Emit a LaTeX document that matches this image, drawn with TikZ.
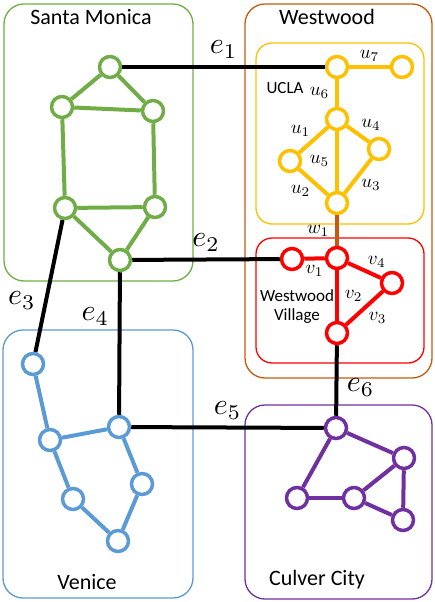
\documentclass[tikz,border=0pt]{standalone}
\usepackage{fontspec}
\setmainfont{Carlito}
\usetikzlibrary{positioning}
\definecolor{smgreen}{HTML}{70AD47}
\definecolor{wwbrown}{HTML}{C55A11}
\definecolor{uclagold}{HTML}{FFC000}
\definecolor{wvred}{HTML}{FF0000}
\definecolor{veblue}{HTML}{5B9BD5}
\definecolor{ccpurple}{HTML}{7030A0}

\begin{document}
\begin{tikzpicture}[
        x=1pt, y=-1pt,
        vtx/.style={circle, draw=#1, line width=3.5pt, fill=white, minimum size=21pt, inner sep=0pt},
        link/.style={line width=4pt, black},
        road/.style={line width=4pt, draw=#1},
        region/.style={rounded corners=20pt, line width=1.3pt},
        regionlabel/.style={font=\fontsize{22}{24}\selectfont},
        smalllabel/.style={font=\fontsize{17}{19}\selectfont, align=center},
        elabel/.style={text=black, inner sep=0.5pt, scale=3, transform shape},
        ulabel/.style={text=black, inner sep=0.5pt, scale=1.9, transform shape}
    ]
        \useasboundingbox (0,0) rectangle (435,602);

        % Regions
        \draw [region, smgreen] (4,4) rectangle (193,281);
        \draw [region, wwbrown] (245,4) rectangle (432,378);
        \draw [region, uclagold, rounded corners=16pt] (256,43) rectangle (424,224);
        \draw [region, wvred, rounded corners=16pt] (256,238) rectangle (424,363);
        \draw [region, veblue] (3,330) rectangle (193,598);
        \draw [region, ccpurple] (245,405) rectangle (432,599);

        \node (smname) [regionlabel] at (91,17) {Santa Monica};
        \node (wwname) [regionlabel] at (327,17) {Westwood};
        \node (uclaname) [smalllabel] at (285,88) {UCLA};
        \node (wvname) [smalllabel] at (297,307) {Westwood\\Village};
        \node (vename) [regionlabel] at (87,582) {Venice};
        \node (ccname) [regionlabel] at (317,580) {Culver City};

        % Nodes
        \node (sm1) [vtx=smgreen] at (110,67) {};
        \node (sm2) [vtx=smgreen] at (62,107) {};
        \node (sm3) [vtx=smgreen] at (153,111) {};
        \node (sm4) [vtx=smgreen] at (65,208) {};
        \node (sm5) [vtx=smgreen] at (155,207) {};
        \node (sm6) [vtx=smgreen] at (120,260) {};

        \node (ucla1) [vtx=uclagold] at (337,67) {};
        \node (ucla2) [vtx=uclagold] at (402,67) {};
        \node (ucla3) [vtx=uclagold] at (337,119) {};
        \node (ucla4) [vtx=uclagold] at (290,161) {};
        \node (ucla5) [vtx=uclagold] at (379,149) {};
        \node (ucla6) [vtx=uclagold] at (337,203) {};

        \node (wv1) [vtx=wvred] at (292,259) {};
        \node (wv2) [vtx=wvred] at (337,258) {};
        \node (wv3) [vtx=wvred] at (392,283) {};
        \node (wv4) [vtx=wvred] at (337,333) {};

        \node (ve1) [vtx=veblue] at (33,364) {};
        \node (ve2) [vtx=veblue] at (50,440) {};
        \node (ve3) [vtx=veblue] at (119,427) {};
        \node (ve4) [vtx=veblue] at (73,499) {};
        \node (ve5) [vtx=veblue] at (142,484) {};
        \node (ve6) [vtx=veblue] at (118,541) {};

        \node (cc1) [vtx=ccpurple] at (336,428) {};
        \node (cc2) [vtx=ccpurple] at (404,458) {};
        \node (cc3) [vtx=ccpurple] at (297,498) {};
        \node (cc4) [vtx=ccpurple] at (354,498) {};
        \node (cc5) [vtx=ccpurple] at (403,520) {};

        % Roads inside the regions
        \draw [road=smgreen] (sm1) -- (sm2);
        \draw [road=smgreen] (sm1) -- (sm3);
        \draw [road=smgreen] (sm2) -- (sm3);
        \draw [road=smgreen] (sm2) -- (sm4);
        \draw [road=smgreen] (sm3) -- (sm5);
        \draw [road=smgreen] (sm4) -- (sm5);
        \draw [road=smgreen] (sm4) -- (sm6);
        \draw [road=smgreen] (sm5) -- (sm6);

        \draw [road=uclagold] (ucla1) -- (ucla2) node[midway, above=1pt, ulabel] {$u_7$};
        \draw [road=uclagold] (ucla1) -- (ucla3) node[midway, left=3pt, ulabel] {$u_6$};
        \draw [road=uclagold] (ucla3) -- (ucla4) node[midway, above left=-2pt, ulabel] {$u_1$};
        \draw [road=uclagold] (ucla3) -- (ucla5) node[midway, above right=-2pt, ulabel] {$u_4$};
        \draw [road=uclagold] (ucla3) -- (ucla6) node[midway, left=3pt, ulabel] {$u_5$};
        \draw [road=uclagold] (ucla4) -- (ucla6) node[midway, below left=-2pt, ulabel] {$u_2$};
        \draw [road=uclagold] (ucla5) -- (ucla6) node[midway, below right=-2pt, ulabel] {$u_3$};

        \draw [road=wwbrown] (ucla6) -- (wv2) node[midway, left=3pt, ulabel] {$w_1$};

        \draw [road=wvred] (wv1) -- (wv2) node[midway, below=2pt, ulabel] {$v_1$};
        \draw [road=wvred] (wv2) -- (wv3) node[midway, above right=-2pt, ulabel] {$v_4$};
        \draw [road=wvred] (wv2) -- (wv4) node[midway, right=3pt, ulabel] {$v_2$};
        \draw [road=wvred] (wv3) -- (wv4) node[midway, below right=-1pt, ulabel] {$v_3$};

        \draw [road=veblue] (ve1) -- (ve2);
        \draw [road=veblue] (ve2) -- (ve3);
        \draw [road=veblue] (ve2) -- (ve4);
        \draw [road=veblue] (ve3) -- (ve5);
        \draw [road=veblue] (ve4) -- (ve6);
        \draw [road=veblue] (ve5) -- (ve6);

        \draw [road=ccpurple] (cc1) -- (cc2);
        \draw [road=ccpurple] (cc1) -- (cc3);
        \draw [road=ccpurple] (cc3) -- (cc4);
        \draw [road=ccpurple] (cc4) -- (cc2);
        \draw [road=ccpurple] (cc4) -- (cc5);
        \draw [road=ccpurple] (cc2) -- (cc5);

        % Links between regions
        \draw [link] (sm1) -- (ucla1) node[pos=0.5, above=1pt, elabel] {$e_1$};
        \draw [link] (sm6) -- (wv1) node[pos=0.5, above=1pt, elabel] {$e_2$};
        \draw [link] (sm4) -- (ve1) node[pos=0.61, left=3pt, elabel] {$e_3$};
        \draw [link] (sm6) -- (ve3) node[pos=0.31, left=3pt, elabel] {$e_4$};
        \draw [link] (ve3) -- (cc1) node[pos=0.5, above=1pt, elabel] {$e_5$};
        \draw [link] (wv4) -- (cc1) node[pos=0.6, right=3pt, elabel] {$e_6$};
    \end{tikzpicture}
\end{document}
